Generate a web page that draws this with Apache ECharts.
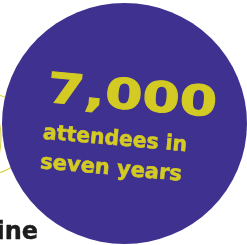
<!DOCTYPE html>
<html>
<head>
<meta charset="utf-8">
<script src="https://cdn.jsdelivr.net/npm/echarts@6/dist/echarts.min.js"></script>
<style>
html,body{margin:0;padding:0;background:#ffffff;}
#chart{width:247px;height:245px;}
</style>
</head>
<body>
<div id="chart"></div>
<script>
// ---- data ----
const statValue = ['7,000'];
const captionLines = ['attendees in', 'seven years'];
const cornerLabel = ['ine'];
const bubblePoints = [[124.5, 123.5]];
const ringPoints = [[-11, 134]];
const innerRingPoints = [[-70, 138]];

const PURPLE = '#3e3190';
const YELLOW = '#d3cb23';
const deg = Math.PI / 180;

const chart = echarts.init(document.getElementById('chart'), null, {renderer: 'canvas'});
chart.setOption({
  animation: false,
  backgroundColor: '#ffffff',
  grid: {left: 0, right: 0, top: 0, bottom: 0},
  xAxis: {type: 'value', min: 0, max: 247, show: false},
  yAxis: {type: 'value', min: 0, max: 245, inverse: true, show: false},
  series: [
    {
      type: 'scatter', clip: false, silent: true, z: 1,
      symbol: 'circle', symbolSize: 80,
      itemStyle: {color: 'rgba(0,0,0,0)', borderColor: YELLOW, borderWidth: 1.2},
      data: ringPoints
    },
    {
      type: 'scatter', clip: false, silent: true, z: 1,
      symbol: 'circle', symbolSize: 142,
      itemStyle: {color: 'rgba(0,0,0,0)', borderColor: YELLOW, borderWidth: 1.2},
      data: innerRingPoints
    },
    {
      type: 'scatter', clip: false, silent: true, z: 2,
      symbol: 'circle', symbolSize: [245, 241],
      itemStyle: {color: PURPLE, opacity: 1},
      data: bubblePoints
    }
  ],
  graphic: [
    {
      type: 'text', x: 132, y: 98.5, rotation: -5 * deg, scaleX: 1.28, z: 10,
      style: {text: statValue[0], font: 'bold 42px "DejaVu Sans"', fill: YELLOW,
              stroke: YELLOW, lineWidth: 1,
              textAlign: 'center', textVerticalAlign: 'middle'}
    },
    {
      type: 'text', x: 115, y: 139.5, rotation: -5 * deg, scaleX: 0.97, z: 10,
      style: {text: captionLines[0], font: 'bold 21px "DejaVu Sans"', fill: YELLOW,
              stroke: YELLOW, lineWidth: 0.6,
              textAlign: 'center', textVerticalAlign: 'middle'}
    },
    {
      type: 'text', x: 111, y: 169, rotation: -5 * deg, scaleX: 1.0, z: 10,
      style: {text: captionLines[1], font: 'bold 21px "DejaVu Sans"', fill: YELLOW,
              stroke: YELLOW, lineWidth: 0.6,
              textAlign: 'center', textVerticalAlign: 'middle'}
    },
    {
      type: 'text', x: 38, y: 232.5, z: 10,
      style: {text: cornerLabel[0], font: 'bold 24px "DejaVu Sans"', fill: '#1d1d1d',
              stroke: '#1d1d1d', lineWidth: 0.4,
              textAlign: 'right', textVerticalAlign: 'middle'}
    }
  ]
});
</script>
</body>
</html>
